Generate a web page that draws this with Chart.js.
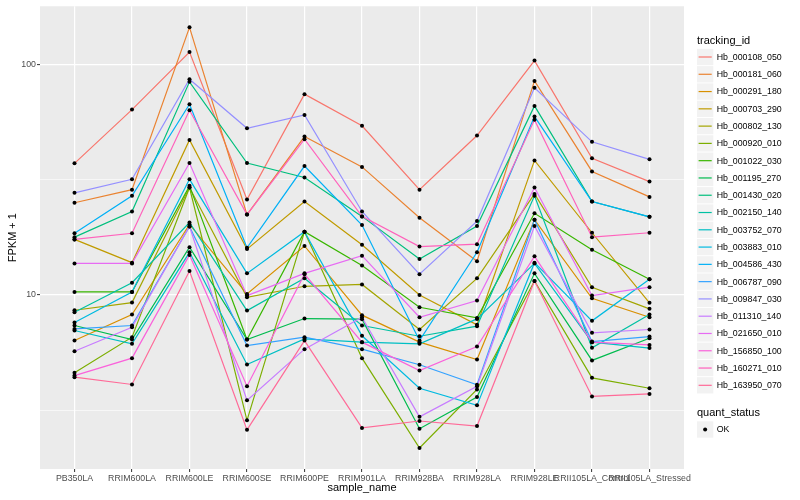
<!DOCTYPE html>
<html><head><meta charset="utf-8">
<script src="https://cdn.jsdelivr.net/npm/chart.js@4.4.1/dist/chart.umd.min.js"></script>
<style>html,body{margin:0;padding:0;background:#fff}canvas{display:block}</style>
</head><body>
<canvas id="c" width="800" height="500"></canvas>
<script>
const categories = ["PB350LA","RRIM600LA","RRIM600LE","RRIM600SE","RRIM600PE","RRIM901LA","RRIM928BA","RRIM928LA","RRIM928LE","RRII105LA_Control","RRII105LA_Stressed"];
const trackingIds = ["Hb_000108_050","Hb_000181_060","Hb_000291_180","Hb_000703_290","Hb_000802_130","Hb_000920_010","Hb_001022_030","Hb_001195_270","Hb_001430_020","Hb_002150_140","Hb_003752_070","Hb_003883_010","Hb_004586_430","Hb_006787_090","Hb_009847_030","Hb_011310_140","Hb_021650_010","Hb_156850_100","Hb_160271_010","Hb_163950_070"];

const hb_000108_050 = [37.2, 63.6, 113, 25.9, 74.2, 54.1, 28.6, 49.1, 103.7, 39.1, 31.0];
const hb_000181_060 = [25.1, 28.6, 144.6, 22.3, 48.6, 35.9, 21.6, 14.0, 84.7, 34.3, 26.6];
const hb_000291_180 = [6.34, 8.22, 20.2, 10.1, 16.3, 8.17, 6.24, 5.25, 21.2, 9.67, 8.00];
const hb_000703_290 = [17.4, 13.8, 47.0, 15.8, 25.4, 16.5, 10.0, 7.42, 38.3, 18.6, 9.24];
const hb_000802_130 = [8.58, 9.26, 29.2, 9.77, 10.9, 11.1, 7.08, 11.8, 27.4, 10.8, 8.70];
const hb_000920_010 = [4.60, 6.56, 29.2, 2.86, 18.8, 5.32, 2.17, 3.89, 11.5, 4.37, 3.94];
const hb_001022_030 = [10.3, 10.3, 29.7, 6.41, 18.8, 13.4, 8.84, 7.95, 22.6, 15.7, 11.7];
const hb_001195_270 = [7.37, 6.41, 16.1, 6.41, 7.90, 7.85, 2.63, 3.61, 12.4, 5.20, 6.49];
const hb_001430_020 = [17.8, 23.0, 83.9, 37.3, 32.3, 21.9, 14.3, 19.9, 66.0, 25.4, 21.8];
const hb_002150_140 = [8.41, 11.3, 20.6, 8.55, 11.8, 7.37, 6.62, 7.32, 26.9, 5.90, 8.22];
const hb_003752_070 = [7.01, 6.14, 15.3, 4.99, 6.45, 6.24, 6.14, 7.87, 13.7, 6.24, 5.88];
const hb_003883_010 = [7.59, 10.3, 31.7, 12.4, 18.8, 6.65, 3.94, 3.32, 13.8, 7.72, 11.7];
const hb_004586_430 = [18.5, 26.9, 67.1, 16.0, 36.2, 20.1, 6.34, 15.3, 59.3, 25.4, 21.8];
const hb_006787_090 = [7.12, 7.37, 19.8, 6.03, 6.56, 5.82, 4.98, 4.08, 21.2, 6.28, 6.60];
const hb_009847_030 = [27.7, 31.7, 86.1, 52.8, 60.3, 23.0, 12.3, 20.9, 79.0, 46.1, 38.7];
const hb_011310_140 = [5.70, 7.24, 19.8, 3.49, 5.82, 8.00, 2.96, 4.02, 19.9, 6.85, 7.08];
const hb_021650_010 = [13.7, 13.7, 37.3, 9.93, 12.4, 14.8, 8.00, 9.45, 29.2, 9.93, 10.8];
const hb_156850_100 = [4.47, 5.32, 14.9, 4.02, 12.3, 6.24, 4.70, 5.97, 14.7, 6.24, 6.07];
const hb_160271_010 = [17.4, 18.5, 63.2, 22.3, 47.3, 21.9, 16.2, 16.6, 57.4, 17.8, 18.6];
const hb_163950_070 = [4.40, 4.09, 12.7, 2.60, 6.34, 2.65, 2.84, 2.70, 11.5, 3.63, 3.72];

const yTickValues = [10, 100];
const yTickLabels = ["10", "100"];
const yMinorValues = [3.1623, 31.623];
const quantStatus = ["OK"];

const seriesValues = [hb_000108_050, hb_000181_060, hb_000291_180, hb_000703_290, hb_000802_130,
  hb_000920_010, hb_001022_030, hb_001195_270, hb_001430_020, hb_002150_140, hb_003752_070,
  hb_003883_010, hb_004586_430, hb_006787_090, hb_009847_030, hb_011310_140, hb_021650_010,
  hb_156850_100, hb_160271_010, hb_163950_070];

// ggplot2 default hue palette (HCL, c=100, l=65)
function hcl(h, c, l) {
  const hr = h * Math.PI / 180;
  const U = c * Math.cos(hr), V = c * Math.sin(hr);
  const un = 0.1978398, vn = 0.4683363;
  const Y = l > 7.999592 ? 100 * Math.pow((l + 16) / 116, 3) : 100 * l / 903.3;
  const u = U / (13 * l) + un, v = V / (13 * l) + vn;
  const X = 9.0 * Y * u / (4 * v);
  const Z = -X / 3 - 5 * Y + 3 * Y / v;
  const x = X / 100, y = Y / 100, z = Z / 100;
  const lin = [3.240479 * x - 1.537150 * y - 0.498535 * z,
              -0.969256 * x + 1.875992 * y + 0.041556 * z,
               0.055648 * x - 0.204043 * y + 1.057311 * z];
  return '#' + lin.map(t => {
    let g = t > 0.0031308 ? 1.055 * Math.pow(t, 1 / 2.4) - 0.055 : 12.92 * t;
    g = Math.max(0, Math.min(1, g));
    return Math.round(g * 255).toString(16).padStart(2, '0');
  }).join('');
}
const n = trackingIds.length;
const colors = trackingIds.map((_, i) => hcl(15 + 360 / n * i, 100, 65));

// y limits: ggplot-style 5% expansion on log scale
const allVals = seriesValues.flat();
const lo = Math.log10(Math.min(...allVals)), hi = Math.log10(Math.max(...allVals));
const pad = (hi - lo) * 0.05;
const yMin = Math.pow(10, lo - pad), yMax = Math.pow(10, hi + pad);

const FONT = '"Liberation Sans", Arial, Helvetica, sans-serif';
Chart.defaults.font.family = FONT;

const datasets = seriesValues.map((vals, i) => ({
  type: 'line',
  label: trackingIds[i],
  data: vals.map((v, j) => ({x: j, y: v})),
  borderColor: colors[i],
  backgroundColor: colors[i],
  borderWidth: 1.2,
  pointRadius: 0,
  tension: 0,
  fill: false,
  order: n - i
}));
const pointData = [];
seriesValues.forEach(vals => vals.forEach((v, j) => pointData.push({x: j, y: v})));
datasets.push({
  type: 'scatter', label: 'points', data: pointData, showLine: false,
  pointRadius: 2, pointBackgroundColor: '#000000', pointBorderWidth: 0, order: 0
});

const panelBg = {
  id: 'panelBg',
  beforeDraw(chart) {
    const {ctx, chartArea: a} = chart;
    ctx.save();
    ctx.fillStyle = '#EBEBEB';
    ctx.fillRect(a.left, a.top, a.right - a.left, a.bottom - a.top);
    ctx.restore();
  }
};

const ggLegend = {
  id: 'ggLegend',
  afterDraw(chart) {
    const ctx = chart.ctx;
    const x0 = 697, keyW = 16.3, step = 17.28;
    ctx.save();
    ctx.fillStyle = '#000';
    ctx.textAlign = 'left';
    ctx.textBaseline = 'alphabetic';
    ctx.font = '11px ' + FONT;
    ctx.fillText('tracking_id', x0, 44);
    ctx.font = '8.8px ' + FONT;
    ctx.textBaseline = 'middle';
    trackingIds.forEach((id, i) => {
      const cy = 57 + i * step;
      ctx.fillStyle = '#F2F2F2';
      ctx.fillRect(x0, cy - keyW / 2, keyW, keyW);
      ctx.strokeStyle = colors[i];
      ctx.lineWidth = 1.2;
      ctx.beginPath();
      ctx.moveTo(x0 + 1.6, cy);
      ctx.lineTo(x0 + keyW - 1.6, cy);
      ctx.stroke();
      ctx.fillStyle = '#000';
      ctx.fillText(id, 716.7, cy + 0.5);
    });
    ctx.textBaseline = 'alphabetic';
    ctx.font = '11px ' + FONT;
    ctx.fillText('quant_status', x0, 416);
    ctx.font = '8.8px ' + FONT;
    ctx.textBaseline = 'middle';
    quantStatus.forEach((q, i) => {
      const cy = 429.5 + i * step;
      ctx.fillStyle = '#F2F2F2';
      ctx.fillRect(x0, cy - keyW / 2, keyW, keyW);
      ctx.fillStyle = '#000';
      ctx.beginPath();
      ctx.arc(x0 + keyW / 2, cy, 2, 0, Math.PI * 2);
      ctx.fill();
      ctx.fillText(q, 716.7, cy + 0.5);
    });
    ctx.restore();
  }
};

new Chart(document.getElementById('c'), {
  type: 'line',
  data: {datasets},
  plugins: [panelBg, ggLegend],
  options: {
    responsive: false,
    animation: false,
    devicePixelRatio: 1,
    layout: {padding: {left: 0, right: 116, top: 5, bottom: 0}},
    plugins: {legend: {display: false}, tooltip: {enabled: false}},
    scales: {
      x: {
        type: 'linear',
        min: -0.6, max: 10.6, bounds: 'data',
        afterBuildTicks: s => { s.ticks = categories.map((_, i) => ({value: i})); },
        afterFit: s => { s.height = 31; },
        border: {display: false},
        grid: {color: '#FFFFFF', lineWidth: 1.2, drawTicks: true, tickLength: 3, tickColor: '#333333', tickWidth: 1},
        ticks: {
          autoSkip: false, maxRotation: 0, minRotation: 0, padding: 1,
          color: '#4D4D4D', font: {size: 8.8},
          callback: v => categories[Math.round(v)] ?? ''
        },
        title: {display: true, text: 'sample_name', color: '#000', font: {size: 11}, padding: {top: 0, bottom: 5}}
      },
      y: {
        type: 'logarithmic',
        min: yMin, max: yMax, bounds: 'data',
        afterBuildTicks: s => {
          s.ticks = yMinorValues.concat(yTickValues).sort((a, b) => a - b).map(v => ({value: v}));
        },
        afterFit: s => { s.width = 40; },
        border: {display: false},
        grid: {
          color: '#FFFFFF',
          lineWidth: c => (yTickValues.includes(c.tick && c.tick.value) ? 1.2 : 0.6),
          drawTicks: true, tickLength: 3, tickWidth: 1,
          tickColor: c => (yTickValues.includes(c.tick && c.tick.value) ? '#333333' : 'rgba(0,0,0,0)')
        },
        ticks: {
          autoSkip: false, padding: 1, color: '#4D4D4D', font: {size: 8.8},
          callback: v => { const k = yTickValues.indexOf(v); return k >= 0 ? yTickLabels[k] : ''; }
        },
        title: {display: true, text: 'FPKM + 1', color: '#000', font: {size: 11}, padding: {top: 6, bottom: 0}}
      }
    }
  }
});
</script>
</body></html>
